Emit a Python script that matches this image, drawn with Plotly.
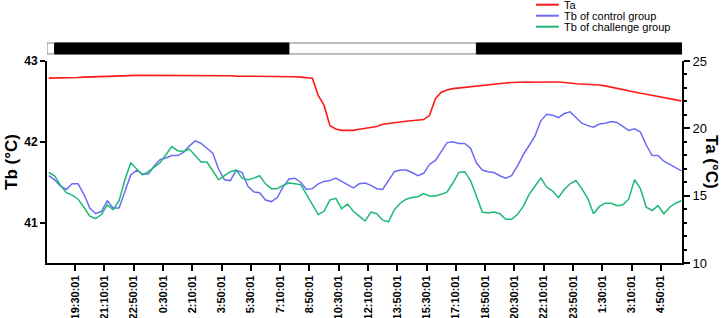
import pandas as pd
import plotly.graph_objects as go

# ---- data (20-minute samples, 18:00:01 day 1 -> 06:00:01 day 3) ----
START = "2024-01-01 18:00:01"
STEP = "20min"

TA = [23.73, 23.73, 23.73, 23.73, 23.75, 23.78, 23.80, 23.82, 23.84, 23.85,
      23.87, 23.88, 23.90, 23.90, 23.92, 23.93, 23.93, 23.93, 23.95, 23.95,
      23.95, 23.95, 23.95, 23.95, 23.95, 23.95, 23.95, 23.95, 23.95, 23.95,
      23.95, 23.90, 23.88, 23.88, 23.88, 23.88, 23.87, 23.85, 23.85, 23.85,
      23.85, 23.85, 23.83, 23.80, 23.78, 23.72, 22.45, 21.70, 20.20, 19.95,
      19.85, 19.83, 19.85, 19.93, 19.98, 20.05, 20.13, 20.30, 20.37, 20.42,
      20.47, 20.52, 20.56, 20.60, 20.65, 20.95, 22.20, 22.68, 22.85, 22.95,
      23.00, 23.07, 23.11, 23.15, 23.20, 23.25, 23.30, 23.34, 23.37, 23.40,
      23.43, 23.44, 23.44, 23.42, 23.41, 23.42, 23.44, 23.44, 23.42, 23.37,
      23.31, 23.29, 23.27, 23.25, 23.22, 23.15, 23.05, 22.96, 22.87, 22.78,
      22.68, 22.60, 22.53, 22.45, 22.38, 22.30, 22.20, 22.12, 22.04]

TB_CONTROL = [41.58, 41.53, 41.45, 41.41, 41.48, 41.48, 41.35, 41.18, 41.11, 41.14,
              41.27, 41.18, 41.18, 41.38, 41.59, 41.65, 41.60, 41.60, 41.70, 41.78,
              41.80, 41.83, 41.83, 41.87, 41.95, 42.01, 41.98, 41.92, 41.86, 41.66,
              41.53, 41.52, 41.65, 41.62, 41.45, 41.38, 41.37, 41.28, 41.26, 41.31,
              41.44, 41.54, 41.55, 41.50, 41.41, 41.42, 41.48, 41.51, 41.52, 41.55,
              41.51, 41.46, 41.43, 41.48, 41.49, 41.46, 41.42, 41.41, 41.52, 41.63,
              41.65, 41.65, 41.62, 41.58, 41.61, 41.72, 41.77, 41.88, 41.99, 42.00,
              41.98, 41.98, 41.92, 41.74, 41.65, 41.63, 41.62, 41.58, 41.55, 41.58,
              41.70, 41.84, 41.95, 42.07, 42.26, 42.34, 42.33, 42.30, 42.35, 42.37,
              42.30, 42.23, 42.20, 42.18, 42.22, 42.23, 42.25, 42.24, 42.19, 42.14,
              42.16, 42.12, 41.96, 41.83, 41.83, 41.76, 41.72, 41.68, 41.64]

TB_CHALLENGE = [41.62, 41.58, 41.46, 41.37, 41.34, 41.29, 41.19, 41.08, 41.05, 41.10,
                41.22, 41.16, 41.27, 41.53, 41.74, 41.67, 41.59, 41.63, 41.69, 41.74,
                41.84, 41.94, 41.89, 41.88, 41.91, 41.83, 41.75, 41.75, 41.64, 41.53,
                41.58, 41.63, 41.65, 41.55, 41.53, 41.55, 41.58, 41.48, 41.42, 41.42,
                41.46, 41.49, 41.48, 41.47, 41.35, 41.22, 41.10, 41.14, 41.28, 41.30,
                41.17, 41.23, 41.14, 41.08, 41.02, 41.13, 41.11, 41.03, 41.01, 41.16,
                41.24, 41.29, 41.31, 41.32, 41.36, 41.33, 41.33, 41.35, 41.38, 41.49,
                41.62, 41.63, 41.52, 41.33, 41.13, 41.12, 41.13, 41.11, 41.04, 41.04,
                41.10, 41.20, 41.35, 41.45, 41.55, 41.44, 41.39, 41.31, 41.41, 41.48,
                41.52, 41.42, 41.30, 41.11, 41.20, 41.24, 41.24, 41.21, 41.22, 41.29,
                41.53, 41.42, 41.19, 41.15, 41.21, 41.11, 41.19, 41.24, 41.27]

TICK_START = "2024-01-01 19:30:01"
TICK_STEP = "100min"
TICK_LABELS = ["19:30:01", "21:10:01", "22:50:01", "0:30:01", "2:10:01", "3:50:01",
               "5:30:01", "7:10:01", "8:50:01", "10:30:01", "12:10:01", "13:50:01",
               "15:30:01", "17:10:01", "18:50:01", "20:30:01", "22:10:01", "23:50:01",
               "1:30:01", "3:10:01", "4:50:01"]

X_RANGE = ["2024-01-01 17:54:01", "2024-01-03 06:02:01"]
DARK_START = ["2024-01-01 18:20:01", "2024-01-02 18:20:01"]
DARK_END = ["2024-01-02 07:40:01", "2024-01-03 06:02:01"]

TB_RANGE = [40.5, 43]
TA_RANGE = [10, 25]

SERIES_NAMES = ["Ta", "Tb of control group", "Tb of challenge group"]
SERIES_COLORS = ["#FF1A1A", "#6B6BF5", "#1DB975"]

times = pd.date_range(START, periods=len(TA), freq=STEP)
tick_vals = pd.date_range(TICK_START, periods=len(TICK_LABELS), freq=TICK_STEP)

fig = go.Figure()
fig.add_trace(go.Scatter(x=times, y=TA, name=SERIES_NAMES[0], yaxis="y2", mode="lines",
                         line=dict(color=SERIES_COLORS[0], width=1.6)))
fig.add_trace(go.Scatter(x=times, y=TB_CONTROL, name=SERIES_NAMES[1], mode="lines",
                         line=dict(color=SERIES_COLORS[1], width=1.5)))
fig.add_trace(go.Scatter(x=times, y=TB_CHALLENGE, name=SERIES_NAMES[2], mode="lines",
                         line=dict(color=SERIES_COLORS[2], width=1.5)))

# light/dark bar above plot
BAR_Y0, BAR_Y1 = 1.035, 1.089
fig.add_shape(type="rect", xref="x", yref="paper", x0=X_RANGE[0], x1=X_RANGE[1],
              y0=BAR_Y0, y1=BAR_Y1, fillcolor="white", line=dict(color="#808080", width=1))
for s, e in zip(DARK_START, DARK_END):
    fig.add_shape(type="rect", xref="x", yref="paper", x0=s, x1=e,
                  y0=BAR_Y0, y1=BAR_Y1, fillcolor="black", line=dict(color="black", width=1))

axis_font = dict(family="Liberation Sans, Arial, sans-serif", color="black")

# compact legend (line sample + label), stacked top-right above the plot
LEG_X0, LEG_X1, LEG_TX = 0.770, 0.806, 0.811
LEG_Y = [1.2787, 1.2243, 1.1698]
for name, color, ly in zip(SERIES_NAMES, SERIES_COLORS, LEG_Y):
    fig.add_shape(type="line", xref="paper", yref="paper", x0=LEG_X0, x1=LEG_X1,
                  y0=ly, y1=ly, line=dict(color=color, width=2))
    fig.add_annotation(text=name, xref="paper", yref="paper", x=LEG_TX, y=ly,
                       xanchor="left", yanchor="middle", showarrow=False,
                       font=dict(family="Liberation Sans Narrow, Liberation Sans, Arial, sans-serif",
                                 size=11, color="black"))

fig.update_layout(
    width=721, height=318,
    margin=dict(l=47, r=39, t=61, b=55, pad=0, autoexpand=False),
    paper_bgcolor="white", plot_bgcolor="white",
    showlegend=False,
    xaxis=dict(type="date", range=X_RANGE, showgrid=False, zeroline=False, automargin=False,
               tickmode="array", tickvals=tick_vals, ticktext=TICK_LABELS,
               tickangle=-90, ticks="outside", ticklen=6, tickwidth=2, tickcolor="black",
               showline=True, linecolor="black", linewidth=2,
               tickfont=dict(size=11, weight="bold", **axis_font)),
    yaxis=dict(range=TB_RANGE, tickvals=[41, 42, 43], showgrid=False, zeroline=False,
               automargin=False,
               ticks="outside", ticklen=5, tickwidth=2, tickcolor="black",
               showline=True, linecolor="black", linewidth=2,
               tickfont=dict(size=12, weight="bold", **axis_font)),
    yaxis2=dict(range=TA_RANGE, overlaying="y", side="right", dtick=5, tick0=10,
                showgrid=False, zeroline=False, automargin=False,
                ticks="outside", ticklen=6, tickwidth=1.5, tickcolor="black",
                minor=dict(dtick=1, ticks="outside", ticklen=3, tickwidth=1.5, tickcolor="black"),
                showline=True, linecolor="black", linewidth=2,
                tickfont=dict(size=13, **axis_font)),
)

fig.add_annotation(text="Tb (°C)", xref="paper", yref="paper", x=-0.0567, y=0.5,
                   xanchor="center", yanchor="middle", textangle=-90, showarrow=False,
                   font=dict(size=17, weight="bold", **axis_font))
fig.add_annotation(text="Ta (°C)", xref="paper", yref="paper", x=1.0472, y=0.5,
                   xanchor="center", yanchor="middle", textangle=90, showarrow=False,
                   font=dict(size=17, weight="bold", **axis_font))

fig.write_html("out.html")
